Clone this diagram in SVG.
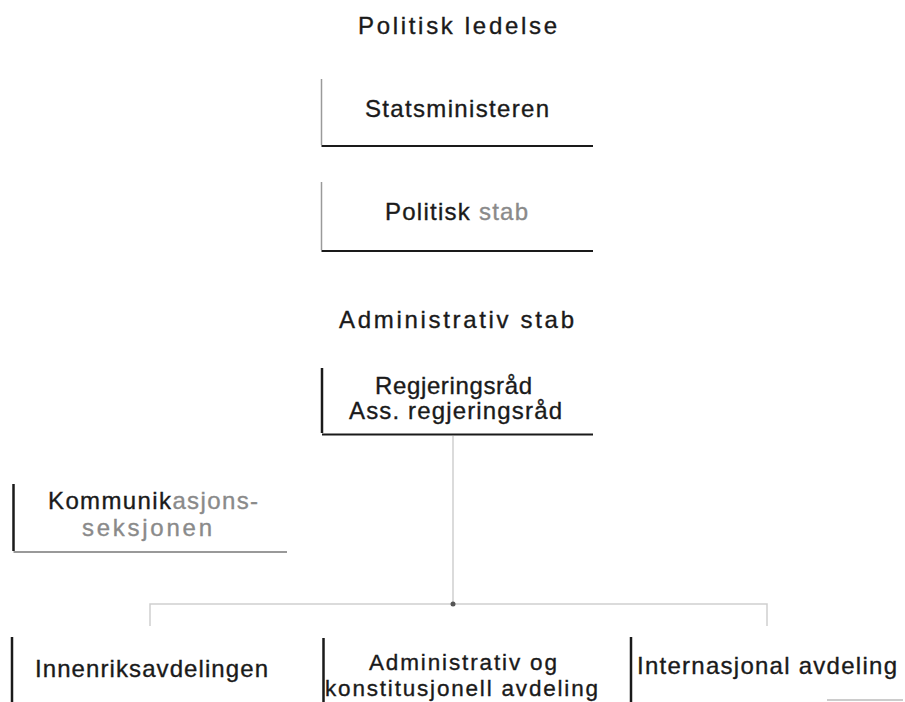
<svg xmlns="http://www.w3.org/2000/svg" width="905" height="702" viewBox="0 0 905 702">
<style>
text{font-family:"Liberation Sans",Arial,sans-serif;font-size:24px;fill:#1a1a1a;stroke:#1a1a1a;stroke-width:0.35}
.tight{font-size:22.5px}
.side{stroke:#9a9a9a;stroke-width:1.5;fill:none}
.sideDark{stroke:#1a1a1a;stroke-width:2.5;fill:none}
.base{stroke:#1a1a1a;stroke-width:2;fill:none}
.baseGray{stroke:#777;stroke-width:1.5;fill:none}
.conn{stroke:#cfcfcf;stroke-width:1.5;fill:none}
.faint{fill:#8a8a8a;stroke:#8a8a8a}
</style>
<rect width="905" height="702" fill="#fff"/>
<text id="title-politisk" x="358" y="34" textLength="199" lengthAdjust="spacing">Politisk ledelse</text>
<g id="node-statsministeren">
<path class="side" d="M321.5 79 V145"/>
<path class="base" d="M321.5 146 H593"/>
<text x="365" y="117" textLength="184" lengthAdjust="spacing">Statsministeren</text>
</g>
<g id="node-politisk-stab">
<path class="side" d="M321.5 182 V250"/>
<path class="base" d="M321.5 251 H593"/>
<text x="385" y="220" textLength="143" lengthAdjust="spacing">Politisk <tspan class="faint">stab</tspan></text>
</g>
<text id="title-administrativ" x="339" y="328" textLength="235" lengthAdjust="spacing">Administrativ stab</text>
<g id="node-regjeringsrad">
<path class="sideDark" d="M322 368 V433"/>
<path class="base" d="M322 434.5 H593"/>
<text x="375" y="394" textLength="157" lengthAdjust="spacing">Regjeringsråd</text>
<text x="349" y="419" textLength="213" lengthAdjust="spacing">Ass. regjeringsråd</text>
</g>
<g id="connectors">
<path class="conn" d="M453 436 V604"/>
<path class="conn" d="M150 626 V604 H767 V626"/>
<circle cx="453" cy="604" r="2.5" fill="#555"/>
</g>
<g id="node-kommunikasjon">
<path class="sideDark" d="M13.5 484 V551"/>
<path class="baseGray" d="M13.5 552 H287"/>
<text x="48" y="509" textLength="210" lengthAdjust="spacing">Kommunik<tspan class="faint">asjons-</tspan></text>
<text x="82" y="536" textLength="130" lengthAdjust="spacing" class="faint">seksjonen</text>
</g>
<g id="node-innenriks">
<path class="sideDark" d="M12 637 V702"/>
<text x="35" y="677" textLength="233" lengthAdjust="spacing">Innenriksavdelingen</text>
</g>
<g id="node-administrativ-konstitusjonell">
<path class="sideDark" d="M323.5 638 V702"/>
<text class="tight" x="369" y="670" textLength="188" lengthAdjust="spacing">Administrativ og</text>
<text class="tight" x="325" y="696" textLength="273" lengthAdjust="spacing">konstitusjonell avdeling</text>
</g>
<g id="node-internasjonal">
<path class="sideDark" d="M631 637 V702"/>
<text x="637" y="674" textLength="260" lengthAdjust="spacing">Internasjonal avdeling</text>
</g>
<path d="M827 700 H903" stroke="#bbb" stroke-width="1.5"/>
</svg>
